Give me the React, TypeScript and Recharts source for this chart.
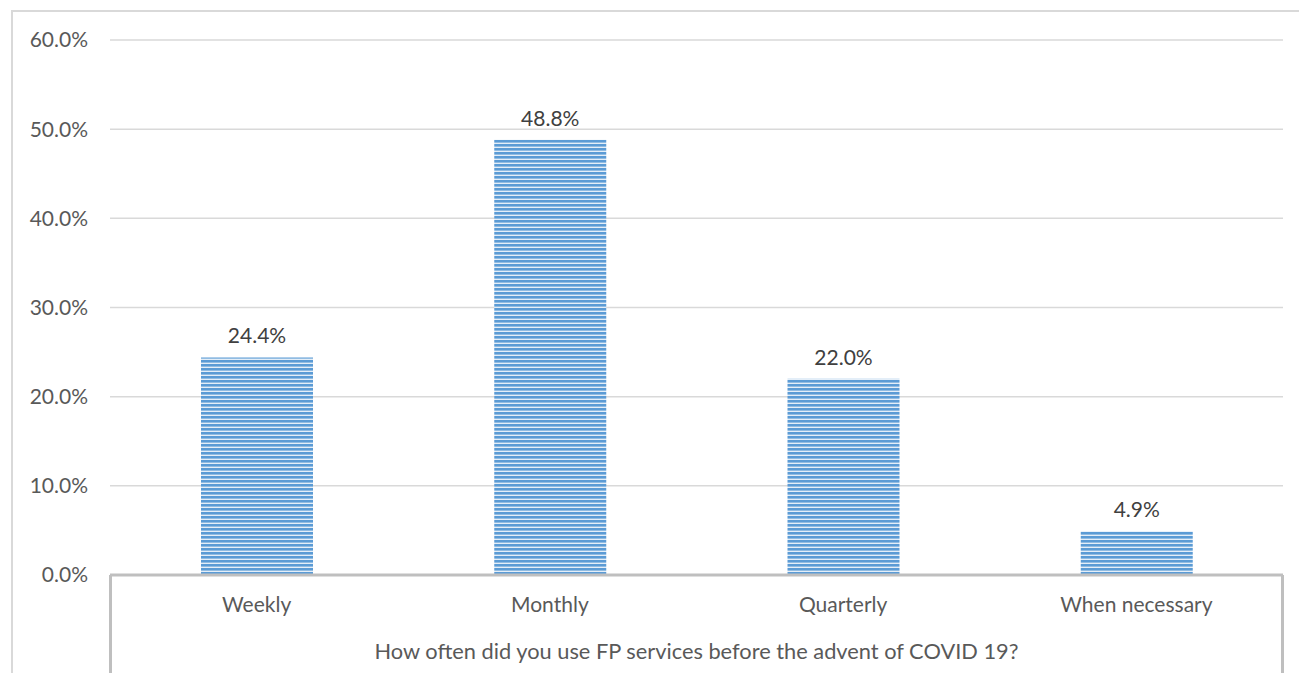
import React from "react";
import { BarChart, Bar, XAxis, YAxis, CartesianGrid, LabelList } from "recharts";

const categories = ["Weekly", "Monthly", "Quarterly", "When necessary"];
const shares = [24.4, 48.8, 22.0, 4.9];
const yTicks = [0, 10, 20, 30, 40, 50, 60];
const axisTitle = "How often did you use FP services before the advent of COVID 19?";

const data = categories.map((c, i) => ({ name: c, value: shares[i] }));

const FONT = "Lato, 'Open Sans', sans-serif";
const TEXT = "#595959";

const XTick = (props: any) => {
  const { x, y, payload } = props;
  return (
    <text x={x} y={y + 29} textAnchor="middle" fill={TEXT} fontSize={21} fontFamily={FONT}>
      {payload.value}
    </text>
  );
};

export default function App() {
  return (
    <div style={{ position: "absolute", left: 0, top: 0, width: 1299, height: 673, overflow: "hidden", background: "#fff" }}>
      <svg width={0} height={0} style={{ position: "absolute" }}>
        <defs>
          <pattern id="stripes" patternUnits="userSpaceOnUse" width={8} height={4}>
            <rect x={0} y={0} width={8} height={4} fill="#e4eef8" />
            <rect x={0} y={0} width={8} height={2.6} fill="#5b9bd5" />
          </pattern>
        </defs>
      </svg>
      <div style={{ position: "absolute", left: 11, top: 10, width: 1400, height: 800, border: "2px solid #d9d9d9", boxSizing: "border-box" }} />
      <div style={{ position: "absolute", left: 109, top: 575, width: 3, height: 100, background: "#bfbfbf" }} />
      <div style={{ position: "absolute", left: 1281, top: 575, width: 3, height: 100, background: "#bfbfbf" }} />
      <div style={{ position: "absolute", left: 0, top: 0 }}>
        <BarChart width={1299} height={673} data={data} margin={{ top: 40, right: 16, bottom: 0, left: 50 }} barCategoryGap={0}>
          <CartesianGrid vertical={false} stroke="#d9d9d9" strokeWidth={1.5} />
          <YAxis
            width={60}
            domain={[0, 60]}
            ticks={yTicks}
            axisLine={false}
            tickLine={false}
            tickSize={0}
            tickMargin={22}
            tickFormatter={(v: number) => `${v.toFixed(1)}%`}
            tick={{ fill: TEXT, fontSize: 21, fontFamily: FONT }}
          />
          <XAxis
            dataKey="name"
            height={98}
            axisLine={{ stroke: "#bfbfbf", strokeWidth: 3 }}
            tickLine={false}
            tick={<XTick />}
            interval={0}
            label={{ value: axisTitle, position: "insideBottom", offset: 14, fill: TEXT, fontSize: 21.8, fontFamily: FONT }}
          />
          <Bar dataKey="value" fill="url(#stripes)" barSize={112} isAnimationActive={false}>
            <LabelList
              dataKey="value"
              position="top"
              offset={14}
              formatter={(v: any) => `${Number(v).toFixed(1)}%`}
              fill="#404040"
              fontSize={21}
              fontFamily={FONT}
            />
          </Bar>
        </BarChart>
      </div>
    </div>
  );
}
